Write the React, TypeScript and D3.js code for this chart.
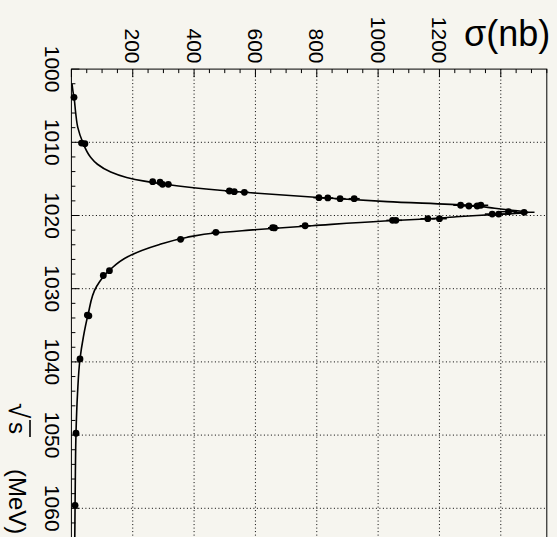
import React from "react";
import * as d3 from "d3";

const W = 557;
const H = 537;

// Data points: energy (MeV), cross-section (nb), error (nb)
const pointE = [1003.85, 1010.1, 1010.2, 1015.38, 1015.46, 1015.74, 1015.74, 1016.65, 1016.75, 1016.83, 1017.57, 1017.6, 1017.7, 1017.7, 1018.6, 1018.7, 1018.7, 1018.6, 1019.48, 1019.56, 1019.8, 1019.8, 1020.44, 1020.44, 1020.66, 1020.66, 1021.4, 1021.67, 1021.7, 1022.3, 1023.25, 1027.54, 1028.2, 1033.6, 1033.7, 1039.6, 1049.75, 1059.6];
const pointS = [8.5, 33, 44, 265, 289, 297, 316, 515, 531, 564, 807, 836, 876, 922, 1269, 1296, 1323, 1335, 1425, 1476, 1372, 1393, 1162, 1200, 1047, 1058, 762, 656, 662, 471, 356, 124, 104, 52, 57, 28, 15, 12];
const pointErr = [3, 4, 4, 10, 10, 10, 10, 14, 14, 14, 18, 18, 18, 18, 24, 24, 24, 24, 28, 34, 24, 24, 24, 24, 20, 20, 18, 15, 15, 14, 12, 6, 6, 4, 4, 3, 3, 3];

// Fit curve
const curveE = [1002.0, 1003.0, 1004.0, 1006.0, 1008.0, 1010.0, 1012.0, 1013.0, 1014.0, 1014.8, 1015.3, 1015.7, 1016.2, 1016.9, 1017.6, 1018.1, 1018.6, 1019.0, 1019.25, 1019.45, 1019.58, 1019.7, 1019.85, 1020.0, 1020.2, 1020.44, 1020.75, 1021.4, 1022.0, 1022.35, 1023.0, 1024.0, 1025.6, 1027.4, 1029.7, 1033.6, 1036.6, 1039.6, 1044.3, 1049.75, 1055, 1059.6, 1064];
const curveS = [2, 5, 9, 14, 21, 37, 62, 85, 125, 180, 238, 300, 398, 585, 830, 1030, 1290, 1380, 1430, 1472, 1490, 1462, 1388, 1322, 1248, 1168, 1020, 785, 580, 474, 375, 285, 185, 126, 82, 54, 39, 28, 20, 15, 13, 12, 11];

const sigmaLabels = [200, 400, 600, 800, 1000, 1200];
const energyLabels = [1000, 1010, 1020, 1030, 1040, 1050, 1060];
const sigmaGrid = [200, 400, 600, 800, 1000, 1200, 1400];
const energyGrid = [1010, 1020, 1030, 1040, 1050, 1060];

const FONT = "'Liberation Sans', Arial, Helvetica, sans-serif";

export default function App() {
  const sx = d3.scaleLinear().domain([0, 1550]).range([71.4, 546.8]);
  const sy = d3.scaleLinear().domain([1000, 1065]).range([69.1, 544.9]);
  const x0 = sx(0), x1 = sx(1550), y0 = sy(1000), y1 = sy(1065);

  const curveData = curveE.map((e, i) => [e, curveS[i]] as [number, number]);
  const line = d3
    .line<[number, number]>()
    .x((d) => sx(d[1]))
    .y((d) => sy(d[0]))
    .curve(d3.curveMonotoneY);

  const minorS = d3.range(0, 1551, 50);
  const minorE = d3.range(1000, 1065, 2);

  return (
    <svg
      width={W}
      height={H}
      style={{ position: "absolute", left: 0, top: 0, background: "#f6f5ef" }}
    >
      <rect x={0} y={0} width={W} height={H} fill="#f6f5ef" />
      {/* grid */}
      {sigmaGrid.map((s) => (
        <line key={"gs" + s} x1={sx(s)} x2={sx(s)} y1={y0} y2={y1} stroke="#000" strokeWidth={1} strokeDasharray="1 2.5" />
      ))}
      {energyGrid.map((e) => (
        <line key={"ge" + e} x1={x0} x2={x1} y1={sy(e)} y2={sy(e)} stroke="#000" strokeWidth={1} strokeDasharray="1 2.5" />
      ))}
      {/* frame */}
      <rect x={x0} y={y0} width={x1 - x0} height={y1 - y0} fill="none" stroke="#000" strokeWidth={1} />
      {/* ticks on sigma axis (top) */}
      {minorS.map((s) => (
        <line key={"ts" + s} x1={sx(s)} x2={sx(s)} y1={y0} y2={y0 + (s % 200 === 0 ? 8 : 4)} stroke="#000" strokeWidth={1} />
      ))}
      {/* ticks on energy axis (left) */}
      {minorE.map((e) => (
        <line key={"te" + e} x1={x0} x2={x0 + (e % 10 === 0 ? 8 : 4)} y1={sy(e)} y2={sy(e)} stroke="#000" strokeWidth={1} />
      ))}
      {/* tick labels */}
      {sigmaLabels.map((s) => (
        <text key={"ls" + s} transform={`translate(${sx(s) - 7.5},63.5) rotate(90)`} textAnchor="end" fontFamily={FONT} fontSize={21} fill="#000">
          {s}
        </text>
      ))}
      {energyLabels.map((e) => (
        <text key={"le" + e} transform={`translate(45,${sy(e)}) rotate(90)`} textAnchor="middle" fontFamily={FONT} fontSize={21} fill="#000">
          {e}
        </text>
      ))}
      {/* axis titles */}
      <text x={464} y={46} fontFamily={FONT} fontSize={36} fill="#000">σ(nb)</text>
      <g transform="translate(9,403) rotate(90)">
        <text x={0} y={0} fontFamily={FONT} fontSize={28} fill="#000">√</text>
        <text x={19} y={0} fontFamily={FONT} fontSize={24} fill="#000">s</text>
        <line x1={17} x2={34} y1={-21} y2={-21} stroke="#000" strokeWidth={1.6} />
        <text x={66} y={0} fontFamily={FONT} fontSize={24} fill="#000">(MeV)</text>
      </g>
      {/* curve */}
      <path d={line(curveData) || ""} fill="none" stroke="#000" strokeWidth={1.6} />
      {/* error bars and points */}
      {pointE.map((e, i) => (
        <g key={"p" + i}>
          <line x1={sx(pointS[i] - pointErr[i])} x2={sx(pointS[i] + pointErr[i])} y1={sy(e)} y2={sy(e)} stroke="#000" strokeWidth={1.5} />
          <circle cx={sx(pointS[i])} cy={sy(e)} r={3.4} fill="#000" />
        </g>
      ))}
    </svg>
  );
}
